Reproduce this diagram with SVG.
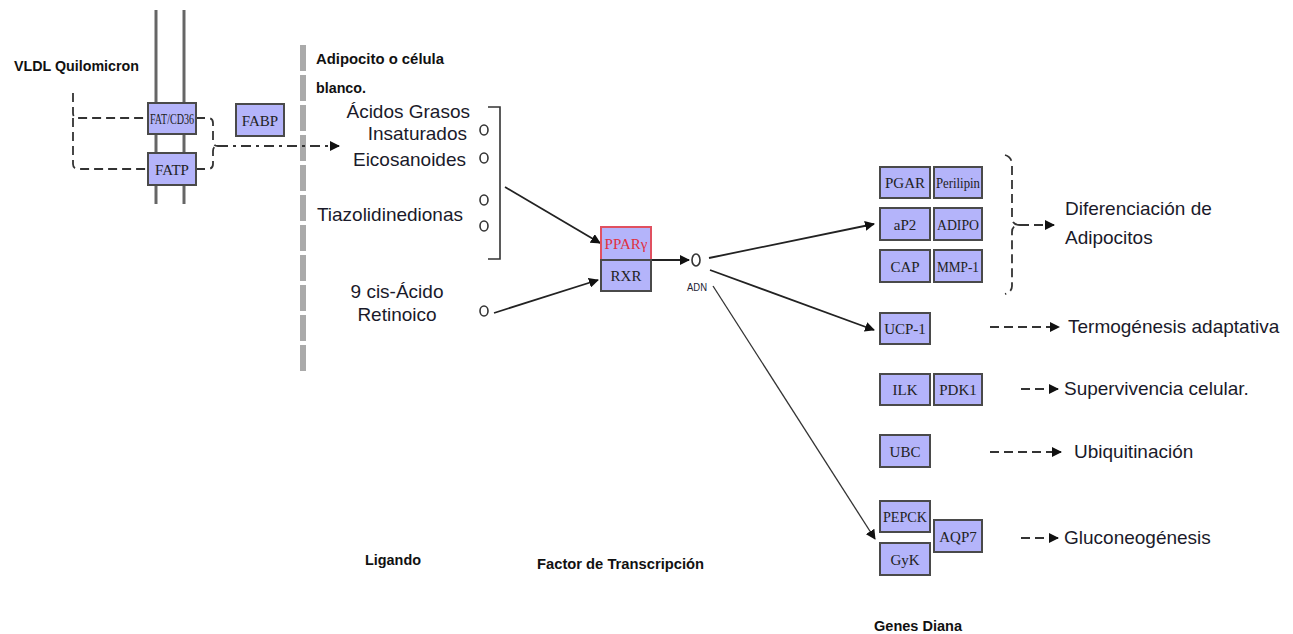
<svg xmlns="http://www.w3.org/2000/svg" width="1293" height="634" viewBox="0 0 1293 634">
<defs>
<style>
.box{fill:#b4b4fa;stroke:#4a4a4a;stroke-width:2}
.bt{font-family:"Liberation Serif",serif;font-size:15px;fill:#222;text-anchor:middle}
.lbl{font-family:"Liberation Sans",Arial,sans-serif;font-size:19px;fill:#1a1a2a}
.bold{font-family:"Liberation Sans",Arial,sans-serif;font-size:15px;font-weight:bold;fill:#111}
.ln{stroke:#222;stroke-width:1.8;fill:none}
.dash{stroke:#333;stroke-width:1.8;fill:none;stroke-dasharray:9 5}
.circ{fill:#fff;stroke:#333;stroke-width:1.6}
</style>
<marker id="ah" viewBox="0 0 10 10" refX="9" refY="5" markerWidth="10" markerHeight="10" markerUnits="userSpaceOnUse" orient="auto"><path d="M0,0 L10,5 L0,10 z" fill="#111"/></marker>
</defs>
<rect width="1293" height="634" fill="#fff"/>
<g id="membrane">
<line x1="156" y1="10" x2="156" y2="204" stroke="#666" stroke-width="3"/>
<line x1="184" y1="10" x2="184" y2="204" stroke="#666" stroke-width="3"/>
<line x1="303" y1="45" x2="303" y2="372" stroke="#aaa" stroke-width="6" stroke-dasharray="26 4"/>
</g>
<g id="connectors">
<path class="dash" d="M73,93 V113 Q73,118 78,118 H148 M196,118 H208 Q213,118 213,123 V141 Q213,146 218,146 M73,118 V164 Q73,169 78,169 H148 M196,169 H208 Q213,169 213,164 V151 Q213,146 218,146"/>
<path d="M218,146 H339" stroke="#333" stroke-width="1.8" fill="none" stroke-dasharray="10 5 3 5" marker-end="url(#ah)"/>
<path d="M488,107 H500 V259 H488" stroke="#333" stroke-width="1.6" fill="none"/>
<line class="ln" x1="505" y1="187" x2="600" y2="243" marker-end="url(#ah)"/>
<line class="ln" x1="494" y1="313" x2="598" y2="280" marker-end="url(#ah)"/>
<line class="ln" x1="651" y1="260" x2="689" y2="260" marker-end="url(#ah)"/>
<line class="ln" x1="709" y1="258" x2="874" y2="224" marker-end="url(#ah)"/>
<line class="ln" x1="710" y1="270" x2="874" y2="330" marker-end="url(#ah)"/>
<line stroke="#333" stroke-width="1.3" x1="713" y1="286" x2="875" y2="539" marker-end="url(#ah)"/>
<path class="dash" d="M1005,155 Q1012,157 1012,165 V218 Q1012,225 1020,225 Q1012,225 1012,232 V286 Q1012,292 1005,294"/>
<line class="dash" x1="1020" y1="225" x2="1054" y2="225" stroke-dasharray="8 4" marker-end="url(#ah)"/>
<line class="dash" x1="990" y1="327" x2="1059" y2="327" stroke-dasharray="8 4" marker-end="url(#ah)"/>
<line class="dash" x1="1021" y1="389" x2="1058" y2="389" stroke-dasharray="8 4" marker-end="url(#ah)"/>
<line class="dash" x1="990" y1="452" x2="1061" y2="452" stroke-dasharray="8 4" marker-end="url(#ah)"/>
<line class="dash" x1="1021" y1="538" x2="1058" y2="538" stroke-dasharray="8 4" marker-end="url(#ah)"/>
</g>
<g id="labels">
<text class="bold" x="14" y="71" textLength="125" lengthAdjust="spacingAndGlyphs">VLDL Quilomicron</text>
<text class="bold" x="316" y="64" textLength="128" lengthAdjust="spacingAndGlyphs">Adipocito o célula</text>
<text class="bold" x="316" y="93" textLength="50" lengthAdjust="spacingAndGlyphs">blanco.</text>
<text class="bold" x="365" y="565" textLength="56" lengthAdjust="spacingAndGlyphs">Ligando</text>
<text class="bold" x="537" y="569" textLength="167" lengthAdjust="spacingAndGlyphs">Factor de Transcripción</text>
<text class="bold" x="874" y="631" textLength="88" lengthAdjust="spacingAndGlyphs">Genes Diana</text>
</g>
<g id="ligands">
<text class="lbl" x="470" y="118" text-anchor="end">Ácidos Grasos</text>
<text class="lbl" x="467" y="140" text-anchor="end">Insaturados</text>
<text class="lbl" x="466" y="166" text-anchor="end">Eicosanoides</text>
<text class="lbl" x="463" y="221" text-anchor="end">Tiazolidinedionas</text>
<text class="lbl" x="397" y="298" text-anchor="middle">9 cis-Ácido</text>
<text class="lbl" x="397" y="321" text-anchor="middle">Retinoico</text>
<ellipse class="circ" cx="484" cy="130" rx="4" ry="5"/>
<ellipse class="circ" cx="484" cy="158" rx="4" ry="5"/>
<ellipse class="circ" cx="484" cy="200" rx="4" ry="5"/>
<ellipse class="circ" cx="484" cy="226" rx="4" ry="5"/>
<ellipse class="circ" cx="484" cy="311" rx="4" ry="5"/>
</g>
<g id="fatcd36"><rect class="box" x="148" y="103" width="48" height="31"/><text class="bt" x="172" y="124" textLength="44" lengthAdjust="spacingAndGlyphs">FAT/CD36</text></g>
<g id="fatp"><rect class="box" x="148" y="153" width="48" height="32"/><text class="bt" x="172" y="175">FATP</text></g>
<g id="fabp"><rect class="box" x="236" y="104" width="48" height="32"/><text class="bt" x="260" y="126">FABP</text></g>
<g id="ppar"><rect x="601" y="227" width="50" height="33" fill="#b4b4fa" stroke="#e05060" stroke-width="2"/><text class="bt" x="626" y="249" style="fill:#e03040">PPARγ</text></g>
<g id="rxr"><rect class="box" x="601" y="260" width="50" height="31"/><text class="bt" x="626" y="281">RXR</text></g>
<g id="adn"><ellipse class="circ" cx="696" cy="260" rx="4" ry="6"/><text x="697" y="291" font-family="Liberation Sans,Arial,sans-serif" font-size="10" fill="#223" text-anchor="middle" textLength="20" lengthAdjust="spacingAndGlyphs">ADN</text></g>
<g id="pgar"><rect class="box" x="880" y="167" width="50" height="31"/><text class="bt" x="905" y="188">PGAR</text></g>
<g id="perilipin"><rect class="box" x="934" y="167" width="48" height="31"/><text class="bt" x="958" y="188" textLength="44" lengthAdjust="spacingAndGlyphs">Perilipin</text></g>
<g id="ap2"><rect class="box" x="880" y="208" width="50" height="32"/><text class="bt" x="905" y="230">aP2</text></g>
<g id="adipo"><rect class="box" x="934" y="208" width="48" height="32"/><text class="bt" x="958" y="230" textLength="42" lengthAdjust="spacingAndGlyphs">ADIPO</text></g>
<g id="cap"><rect class="box" x="880" y="250" width="50" height="32"/><text class="bt" x="905" y="272">CAP</text></g>
<g id="mmp1"><rect class="box" x="934" y="250" width="48" height="32"/><text class="bt" x="958" y="272" textLength="42" lengthAdjust="spacingAndGlyphs">MMP-1</text></g>
<g id="ucp1"><rect class="box" x="880" y="313" width="50" height="31"/><text class="bt" x="905" y="334">UCP-1</text></g>
<g id="ilk"><rect class="box" x="880" y="374" width="50" height="31"/><text class="bt" x="905" y="395">ILK</text></g>
<g id="pdk1"><rect class="box" x="934" y="374" width="48" height="31"/><text class="bt" x="958" y="395">PDK1</text></g>
<g id="ubc"><rect class="box" x="880" y="435" width="50" height="32"/><text class="bt" x="905" y="457">UBC</text></g>
<g id="pepck"><rect class="box" x="880" y="501" width="50" height="31"/><text class="bt" x="905" y="522" textLength="44" lengthAdjust="spacingAndGlyphs">PEPCK</text></g>
<g id="gyk"><rect class="box" x="880" y="543" width="50" height="32"/><text class="bt" x="905" y="565">GyK</text></g>
<g id="aqp7"><rect class="box" x="934" y="520" width="48" height="32"/><text class="bt" x="958" y="542">AQP7</text></g>
<g id="outcomes">
<text class="lbl" x="1065" y="215">Diferenciación de</text>
<text class="lbl" x="1065" y="244">Adipocitos</text>
<text class="lbl" x="1068" y="333">Termogénesis adaptativa</text>
<text class="lbl" x="1064" y="395">Supervivencia celular.</text>
<text class="lbl" x="1074" y="458">Ubiquitinación</text>
<text class="lbl" x="1064" y="544">Gluconeogénesis</text>
</g>
</svg>
